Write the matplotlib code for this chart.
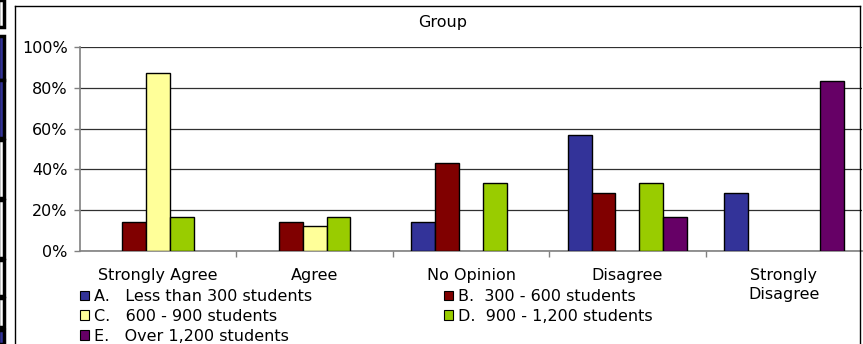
import matplotlib.pyplot as plt
import numpy as np
from matplotlib.lines import Line2D
from matplotlib.patches import Patch, Rectangle

plt.rcParams["font.family"] = ["DejaVu Sans"]

W, H = 863, 344

CATEGORIES = ["Strongly Agree", "Agree", "No Opinion", "Disagree", "Strongly\nDisagree"]
GROUPS = [
    "A.   Less than 300 students",
    "B.  300 - 600 students",
    "C.   600 - 900 students",
    "D.  900 - 1,200 students",
    "E.   Over 1,200 students",
]
COLORS = ["#333399", "#800000", "#FFFF99", "#99CC00", "#660066"]

# percent of each size group choosing each answer (0 = no bar)
group_a = [0.0, 0.0, 14.3, 57.1, 28.6]
group_b = [14.3, 14.3, 42.9, 28.6, 0.0]
group_c = [87.5, 12.5, 0.0, 0.0, 0.0]
group_d = [16.7, 16.7, 33.3, 33.3, 0.0]
group_e = [0.0, 0.0, 0.0, 16.7, 83.3]
SERIES = [group_a, group_b, group_c, group_d, group_e]

Y_TICKS = [0, 20, 40, 60, 80, 100]
FS = 11.5


def px(x, y):
    return x / W, 1 - y / H


fig = plt.figure(figsize=(W / 100, H / 100), dpi=100)

# plot area
x0, y_top = px(80, 47)
x1, y_bot = px(862, 251)
ax = fig.add_axes([x0, y_bot, x1 - x0, y_top - y_bot])

x = np.arange(len(CATEGORIES))
width = 0.153
for k, (vals, color) in enumerate(zip(SERIES, COLORS)):
    v = np.array(vals)
    mask = v > 0
    ax.bar(x[mask] + (k - 2) * width, v[mask], width=width, color=color,
           edgecolor="black", linewidth=1.0, zorder=3)

ax.set_xlim(-0.5, len(CATEGORIES) - 0.5)
ax.set_ylim(0, 100)
ax.set_yticks(Y_TICKS)
ax.set_yticklabels([f"{t}%" for t in Y_TICKS], fontsize=FS)
ax.yaxis.grid(True, color="#303030", linewidth=0.9, zorder=0)

# boundaries between categories carry the tick marks, labels sit at centers
ax.set_xticks(np.arange(0.5, len(CATEGORIES) - 0.5, 1.0))
ax.set_xticklabels([])
ax.set_xticks(x, minor=True)
ax.set_xticklabels(CATEGORIES, minor=True, fontsize=FS, linespacing=1.35, va="top")
ax.tick_params(axis="x", which="major", length=4, color="#808080", width=1)
ax.tick_params(axis="x", which="minor", length=0, pad=12)
ax.tick_params(axis="y", length=4, color="#808080", width=1, pad=5)

for side in ["top", "right"]:
    ax.spines[side].set_visible(False)
for side in ["left", "bottom"]:
    ax.spines[side].set_color("#808080")
    ax.spines[side].set_linewidth(1.2)

fig.text(*px(443, 23), "Group", ha="center", va="center", fontsize=FS)

# legend in two blocks: A, C, E on the left and B, D on the right
handles = [Patch(facecolor=c, edgecolor="black", linewidth=0.8) for c in COLORS]
leg_kw = dict(frameon=False, fontsize=FS, handlelength=0.55, handleheight=0.55,
              handletextpad=0.3, labelspacing=0.3, borderpad=0, borderaxespad=0)
leg1 = fig.legend([handles[i] for i in (0, 2, 4)], [GROUPS[i] for i in (0, 2, 4)],
                  loc="upper left", bbox_to_anchor=px(80, 289), **leg_kw)
leg2 = fig.legend([handles[i] for i in (1, 3)], [GROUPS[i] for i in (1, 3)],
                  loc="upper left", bbox_to_anchor=px(444, 289), **leg_kw)

# chart frame (open at the bottom)
for xs, ys in [((15, 15), (6, 344)), ((15, 860), (6, 6)), ((860, 860), (6, 344))]:
    fig.add_artist(Line2D([a / W for a in xs], [1 - b / H for b in ys],
                          color="black", linewidth=1.0))

# neighbouring boxes cut off at the left edge
strip = [(0, 27, "white"), (36, 80, "#333399"), (80, 138, "#333399"),
         (140, 198, "white"), (200, 258, "white"), (260, 296, "white"),
         (298, 327, "white"), (330, 344, "#333399")]
for top, bottom, fill in strip:
    fig.add_artist(Rectangle((-2 / W, 1 - bottom / H), 6 / W, (bottom - top) / H,
                             facecolor=fill, edgecolor="black", linewidth=2.5,
                             transform=fig.transFigure))

fig.savefig("out.png", dpi=100)
